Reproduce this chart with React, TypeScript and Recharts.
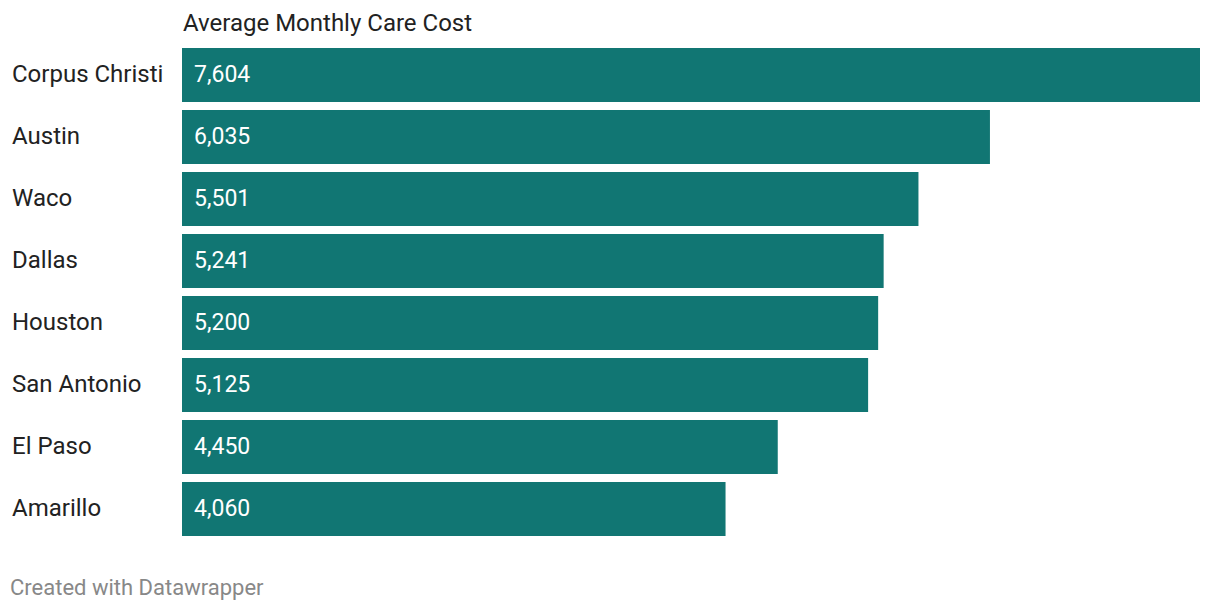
import { BarChart, Bar, XAxis, YAxis, LabelList } from 'recharts'

// Average monthly care cost by Texas city
const cities = ['Corpus Christi', 'Austin', 'Waco', 'Dallas', 'Houston', 'San Antonio', 'El Paso', 'Amarillo']
const costs = [7604, 6035, 5501, 5241, 5200, 5125, 4450, 4060]

const BAR_COLOR = '#117673'
const FONT = 'Roboto, "Noto Sans", sans-serif'

const data = cities.map((city, i) => ({ city, cost: costs[i] }))

const formatNumber = (v: number) => v.toLocaleString('en-US')

// Left-aligned category labels
const CityTick = ({ y, payload }: any) => (
  <text x={12} y={y} dy={7} textAnchor="start" fontSize={24} fill="#222" fontFamily={FONT}>
    {payload.value}
  </text>
)

export default function App() {
  return (
    <div style={{ position: 'absolute', left: 0, top: 0, width: 1220, height: 612, background: '#fff', fontFamily: FONT }}>
      <div style={{ position: 'absolute', left: 183, top: 9, fontSize: 24, lineHeight: '28px', color: '#222' }}>
        Average Monthly Care Cost
      </div>
      <BarChart
        width={1220}
        height={612}
        data={data}
        layout="vertical"
        margin={{ top: 44, right: 20, bottom: 72, left: 0 }}
        barCategoryGap={4}
      >
        <XAxis type="number" hide domain={[0, 7604]} />
        <YAxis
          type="category"
          dataKey="city"
          width={182}
          axisLine={false}
          tickLine={false}
          tick={<CityTick />}
          interval={0}
        />
        <Bar dataKey="cost" fill={BAR_COLOR} isAnimationActive={false}>
          <LabelList
            dataKey="cost"
            position="insideLeft"
            offset={12}
            formatter={(v: any) => formatNumber(Number(v))}
            fill="#fff"
            fontSize={23}
            fontFamily={FONT}
            dy={-1.5}
          />
        </Bar>
      </BarChart>
      <div style={{ position: 'absolute', left: 10, top: 575, fontSize: 22, lineHeight: '26px', color: '#888' }}>
        Created with Datawrapper
      </div>
    </div>
  )
}
